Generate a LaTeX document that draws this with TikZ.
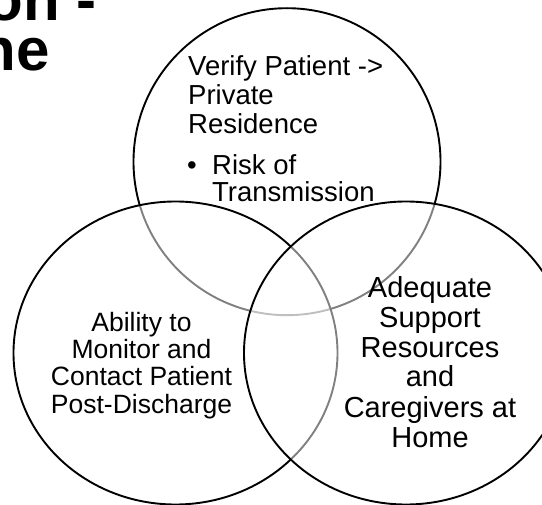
\documentclass[tikz,border=0pt]{standalone}
\usepackage{fontspec}
\setmainfont{Liberation Sans}
\usetikzlibrary{shapes.geometric}
\begin{document}
\begin{tikzpicture}[x=1pt,y=-1pt,
  venn/.style={draw=black, line width=1.9pt, fill=white, fill opacity=0.5, inner sep=0pt, outer sep=0pt},
  ttl/.style={inner sep=0pt, anchor=base west, font=\fontsize{60}{60}\selectfont\bfseries},
  ttxt/.style={inner sep=0pt, anchor=base west, font=\fontsize{27.5}{29}\selectfont},
  ltxt/.style={inner sep=0pt, anchor=base, font=\fontsize{26.5}{27}\selectfont},
  rtxt/.style={inner sep=0pt, anchor=base, font=\fontsize{29}{30}\selectfont}]
\useasboundingbox (0,0) rectangle (542,505);
% title (cut off at the left edge)
\node[ttl] (title1) at (-13.5,20.7) {on -};
\node[ttl] (title2) at (-20.2,71) {ne};
% circles
\node[venn, circle, minimum size=307pt] (top) at (287,161.7) {};
\node[venn, ellipse, minimum width=324pt, minimum height=303pt] (left) at (175.5,353) {};
\node[venn, ellipse, minimum width=324pt, minimum height=303pt] (right) at (406,353) {};
% top text
\node[ttxt] (tv) at (188,76) {Verify Patient ->};
\node[ttxt] (tp) at (188,105) {Private};
\node[ttxt] (tr) at (188,133.3) {Residence};
\node[ttxt] (tb) at (187,174.3) {•};
\node[ttxt] (tk) at (212,174.3) {Risk of};
\node[ttxt] (tt) at (212,201.7) {Transmission};
% left text
\node[ltxt] (la) at (141.5,331.5) {Ability to};
\node[ltxt] (lm) at (141.5,358.8) {Monitor and};
\node[ltxt] (lc) at (141.5,386) {Contact Patient};
\node[ltxt] (lp) at (141.5,413.3) {Post-Discharge};
% right text
\node[rtxt] (ra) at (430,297.7) {Adequate};
\node[rtxt] (rs) at (430,327.5) {Support};
\node[rtxt] (rr) at (430,357.2) {Resources};
\node[rtxt] (rn) at (430,387) {and};
\node[rtxt] (rc) at (430,417.3) {Caregivers at};
\node[rtxt] (rh) at (430,447.8) {Home};
\end{tikzpicture}
\end{document}
